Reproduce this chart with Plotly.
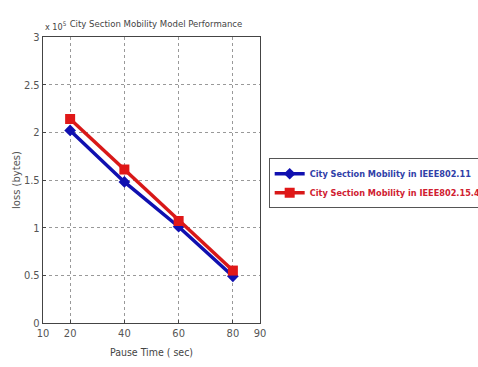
import plotly.graph_objects as go

pause_time = [20, 40, 60, 80]
loss_80211 = [202000, 148000, 101000, 49000]
loss_802154 = [214000, 161000, 107000, 55000]
series_names = ["City Section Mobility in IEEE802.11", "City Section Mobility in IEEE802.15.4"]
series_colors = ["#1010b0", "#d81818"]
x_ticks = [10, 20, 40, 60, 80, 90]
y_tickvals = [0, 50000, 100000, 150000, 200000, 250000, 300000]
y_ticktext = ["0", "0.5", "1", "1.5", "2", "2.5", "3"]

narrow = "DejaVu Sans Condensed, Liberation Sans Narrow, sans-serif"

fig = go.Figure()
fig.add_trace(go.Scatter(x=pause_time, y=loss_80211, mode="lines+markers",
                         name=f"<span style='color:#3040a8'>{series_names[0]}</span>",
                         line=dict(color=series_colors[0], width=3.5),
                         marker=dict(symbol="diamond", size=9, color=series_colors[0])))
fig.add_trace(go.Scatter(x=pause_time, y=loss_802154, mode="lines+markers",
                         name=f"<span style='color:#d02030'>{series_names[1]}</span>",
                         line=dict(color=series_colors[1], width=3.5),
                         marker=dict(symbol="square", size=10, color="#e01818")))

axis_common = dict(showgrid=True, gridcolor="#999999", griddash="dot", gridwidth=1,
                   showline=True, linecolor="#444444", linewidth=1.3, mirror=True,
                   ticks="inside", ticklen=3, tickcolor="#444444", zeroline=False,
                   tickfont=dict(family=narrow, size=11, color="#555555"))

fig.update_xaxes(range=[10, 90], tickvals=x_ticks, **axis_common,
                 title=dict(text="Pause Time ( sec)", font=dict(family=narrow, size=10.5, color="#444444"), standoff=9))
fig.update_yaxes(range=[0, 300000], tickvals=y_tickvals, ticktext=y_ticktext, **axis_common,
                 title=dict(text="loss (bytes)", font=dict(family="DejaVu Sans, sans-serif", size=10, color="#555555"), standoff=1))

fig.update_layout(
    width=478, height=367,
    margin=dict(l=43, r=218, t=37, b=44, autoexpand=False),
    paper_bgcolor="white", plot_bgcolor="white",
    title=dict(text="City Section Mobility Model Performance", x=156 / 478, xanchor="center",
               y=1 - 24 / 367, yanchor="middle", font=dict(family=narrow, size=9.5, color="#444444")),
    legend=dict(x=1.04, y=0.576, xanchor="left", yanchor="top",
                bordercolor="#555555", borderwidth=1, bgcolor="white",
                font=dict(family=narrow, size=9.1, color="#2030a0", weight="bold"),
                tracegroupgap=0, itemwidth=30),
    showlegend=True,
)
fig.add_annotation(text="x 10<sup>5</sup>", xref="paper", yref="paper", x=0.0, y=1.0, xanchor="left",
                   yanchor="bottom", showarrow=False, yshift=3,
                   font=dict(family=narrow, size=9, color="#444444"))

fig.write_html("out.html", post_script="document.body.style.margin='0';",
               config={"displayModeBar": False})
